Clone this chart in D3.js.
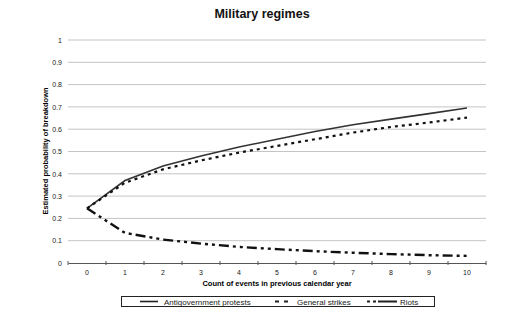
<!DOCTYPE html>
<html><head><meta charset="utf-8">
<script src="https://cdn.jsdelivr.net/npm/d3@7"></script>
<style>body{margin:0;background:#fff;}</style>
</head><body>
<script>
const categories = ["0","1","2","3","4","5","6","7","8","9","10"];
const antigov = [0.245,0.37,0.435,0.48,0.52,0.555,0.59,0.62,0.645,0.67,0.695];
const strikes = [0.245,0.36,0.42,0.46,0.495,0.525,0.555,0.585,0.61,0.63,0.652];
const riots = [0.245,0.135,0.105,0.087,0.072,0.062,0.053,0.046,0.04,0.035,0.032];
const yTicks = [0,0.1,0.2,0.3,0.4,0.5,0.6,0.7,0.8,0.9,1];
const yTickLabels = ["0","0.1","0.2","0.3","0.4","0.5","0.6","0.7","0.8","0.9","1"];
const seriesNames = ["Antigovernment protests","General strikes","Riots"];

(function(){
const W=524,H=324;
const svg=d3.select("body").append("svg").attr("width",W).attr("height",H);
const pLeft=68,pRight=486,pTop=40,pBottom=263;
const x=d3.scaleBand().domain(categories).range([pLeft,pRight]);
const y=d3.scaleLinear().domain([0,1]).range([pBottom,pTop]);
const font="Liberation Sans, Arial, sans-serif";

svg.append("text").attr("x",262).attr("y",18).attr("text-anchor","middle")
  .attr("font-family",font).attr("font-weight","bold").attr("font-size",12.5).attr("fill","#111").text("Military regimes");

svg.append("g").selectAll("line").data(yTicks.slice(1)).join("line")
  .attr("x1",pLeft).attr("x2",pRight).attr("y1",d=>y(d)).attr("y2",d=>y(d))
  .attr("stroke","#c4c4c4").attr("stroke-width",1);

const ya=svg.append("g").attr("transform",`translate(${pLeft},0)`)
  .call(d3.axisLeft(y).tickValues(yTicks).tickFormat((d,i)=>yTickLabels[i]).tickSize(0).tickPadding(6));
ya.select(".domain").remove();
ya.selectAll("text").attr("font-family",font).attr("font-size",7).attr("fill","#222");

const xa=svg.append("g").attr("transform",`translate(0,${pBottom})`)
  .call(d3.axisBottom(x).tickSize(0).tickPadding(7));
xa.select(".domain").attr("stroke","#555").attr("stroke-width",1);
xa.selectAll("text").attr("font-family",font).attr("font-size",7).attr("fill","#222");
const bounds=categories.map(c=>x(c)).concat([pRight]);
svg.append("g").selectAll("line").data(bounds).join("line")
  .attr("x1",d=>d).attr("x2",d=>d).attr("y1",pBottom-2).attr("y2",pBottom+2)
  .attr("stroke","#555").attr("stroke-width",1);

svg.append("text").attr("x",277).attr("y",286).attr("text-anchor","middle")
  .attr("font-family",font).attr("font-weight","bold").attr("font-size",7.5).text("Count of events in previous calendar year");
svg.append("text").attr("transform",`translate(48,151) rotate(-90)`).attr("text-anchor","middle")
  .attr("font-family",font).attr("font-weight","bold").attr("font-size",7.5).text("Estimated probability of breakdown");

const styles=[
  {data:antigov,dash:null,w:1.6,c:"#333"},
  {data:strikes,dash:"3,4",w:2.2,c:"#111"},
  {data:riots,dash:"10,4,3,4,3,4",w:2.4,c:"#111"}
];
const line=d3.line().x((d,i)=>x(categories[i])+x.bandwidth()/2).y(d=>y(d));
styles.forEach(s=>{
  svg.append("path").datum(s.data).attr("d",line).attr("fill","none")
    .attr("stroke",s.c).attr("stroke-width",s.w).attr("stroke-dasharray",s.dash);
});

const lg=svg.append("g");
lg.append("rect").attr("x",121.5).attr("y",296.5).attr("width",313).attr("height",10)
  .attr("fill","#fff").attr("stroke","#222").attr("stroke-width",1);
const items=[{x1:140,x2:158,tx:164},{x1:275,x2:288,tx:297},{x1:367,x2:397,tx:400}];
const legDash=[null,"4,5,4","3,3,3,2,19"];
items.forEach((it,i)=>{
  lg.append("line").attr("x1",it.x1).attr("x2",it.x2).attr("y1",301.5).attr("y2",301.5)
    .attr("stroke","#222").attr("stroke-width",i==0?1.6:2.2).attr("stroke-dasharray",legDash[i]);
  lg.append("text").attr("x",it.tx).attr("y",304.5).attr("font-family",font).attr("font-size",8)
    .attr("fill","#222").text(seriesNames[i]);
});
})();
</script>
</body></html>
